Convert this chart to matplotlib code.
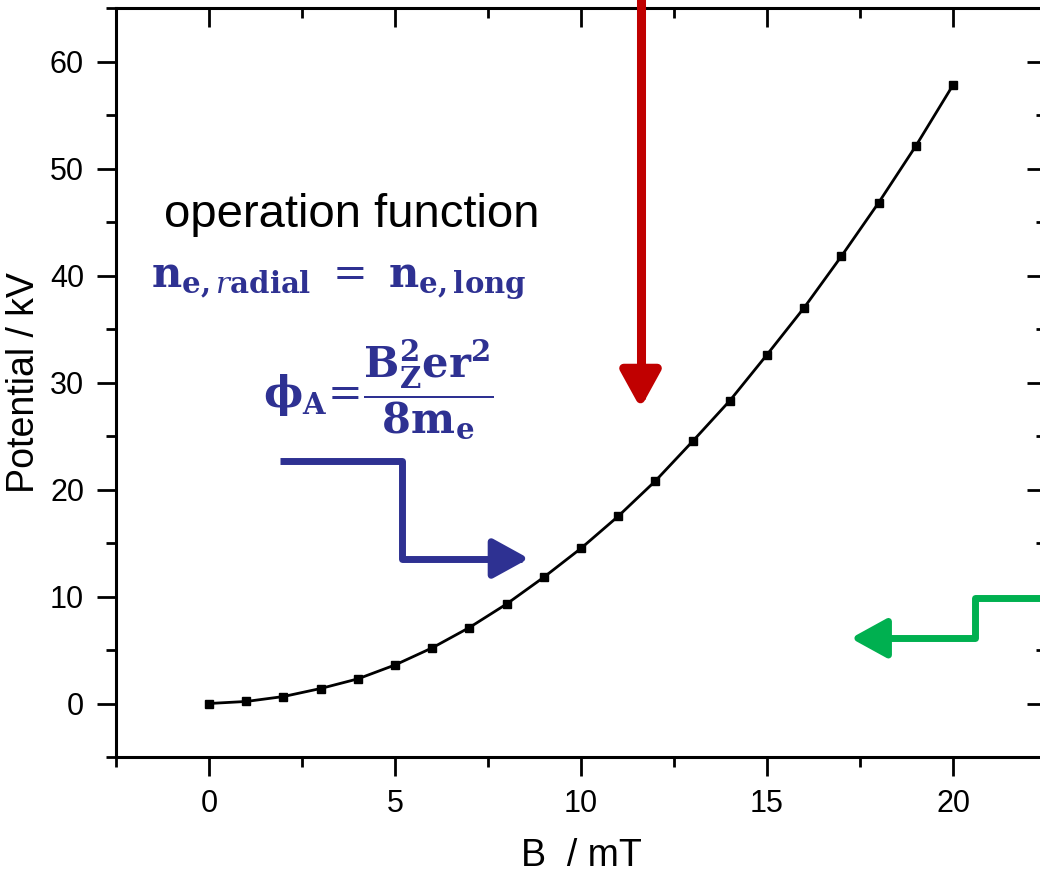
import numpy as np
import matplotlib
matplotlib.use('Agg')
import matplotlib.pyplot as plt
from matplotlib.patches import FancyArrowPatch
from matplotlib.path import Path
from matplotlib.ticker import MultipleLocator

plt.rcParams['font.family'] = ['Liberation Sans', 'DejaVu Sans']
plt.rcParams['mathtext.fontset'] = 'dejavuserif'

# data
b_field = [0, 1, 2, 3, 4, 5, 6, 7, 8, 9, 10, 11, 12, 13, 14, 15, 16, 17, 18, 19, 20]
potential = [0.0, 0.19, 0.65, 1.4, 2.3, 3.6, 5.2, 7.1, 9.3, 11.8, 14.5, 17.5, 20.8,
             24.5, 28.3, 32.6, 37.0, 41.8, 46.8, 52.1, 57.8]

x_ticks = [0, 5, 10, 15, 20]
y_ticks = [0, 10, 20, 30, 40, 50, 60]

blue = '#2E3192'
red = '#C00000'
green = '#00B050'

fig = plt.figure(figsize=(10.4, 8.74), dpi=100)
ax = fig.add_axes([116 / 1040, 1 - 757 / 874, 930 / 1040, 749 / 874])

ax.plot(b_field, potential, color='black', lw=2, marker='s', ms=6, zorder=3)

ax.set_xlim(-2.5, 22.5)
ax.set_ylim(-5, 65)
ax.set_xticks(x_ticks)
ax.set_yticks(y_ticks)
ax.xaxis.set_minor_locator(MultipleLocator(2.5))
ax.yaxis.set_minor_locator(MultipleLocator(5))
ax.tick_params(which='both', width=2, labelsize=22)
ax.tick_params(which='major', length=14, pad=9)
ax.tick_params(which='minor', length=7)
ax.tick_params(axis='x', which='both', top=True, direction='out')
ax.tick_params(axis='y', which='both', right=True, direction='out')
for side in ['left', 'right', 'top', 'bottom']:
    ax.spines[side].set_linewidth(2.2)
# top/right ticks point inward
for t in ax.xaxis.get_major_ticks() + ax.xaxis.get_minor_ticks():
    t.tick2line.set_marker(matplotlib.lines.TICKDOWN)
for t in ax.yaxis.get_major_ticks() + ax.yaxis.get_minor_ticks():
    t.tick2line.set_marker(matplotlib.lines.TICKLEFT)

ax.set_xlabel('B  / mT', fontsize=27, labelpad=14)
ax.set_ylabel('Potential / kV', fontsize=27, labelpad=6)

ax.text(-1.2, 44.5, 'operation function', fontsize=34, va='baseline', ha='left')
ax.text(-1.55, 39.0, r'$\mathbf{n}_{\mathbf{e,}r\mathbf{adial}}\ =\ \mathbf{n}_{\mathbf{e,long}}$',
        fontsize=30, color=blue, va='baseline', ha='left')
ax.text(1.45, 29.3, r'$\mathbf{\phi}_{\mathbf{A}}\!=\!\dfrac{\mathbf{B_Z^2er^2}}{\mathbf{8m_e}}$',
        fontsize=30, color=blue, va='center', ha='left')

def elbow_arrow(points, color, lw):
    arrow = FancyArrowPatch(path=Path(points), arrowstyle='-|>,head_length=1.0,head_width=0.55',
                            mutation_scale=22, color=color, lw=lw, joinstyle='round',
                            capstyle='butt', clip_on=False, zorder=4)
    ax.add_patch(arrow)

elbow_arrow([(11.6, 72), (11.6, 27.6)], red, 6.5)
elbow_arrow([(1.9, 22.7), (5.2, 22.7), (5.2, 13.55), (8.6, 13.55)], blue, 5)
elbow_arrow([(23.5, 9.9), (20.6, 9.9), (20.6, 6.1), (17.25, 6.1)], green, 5)

fig.savefig('out.png', dpi=100)
